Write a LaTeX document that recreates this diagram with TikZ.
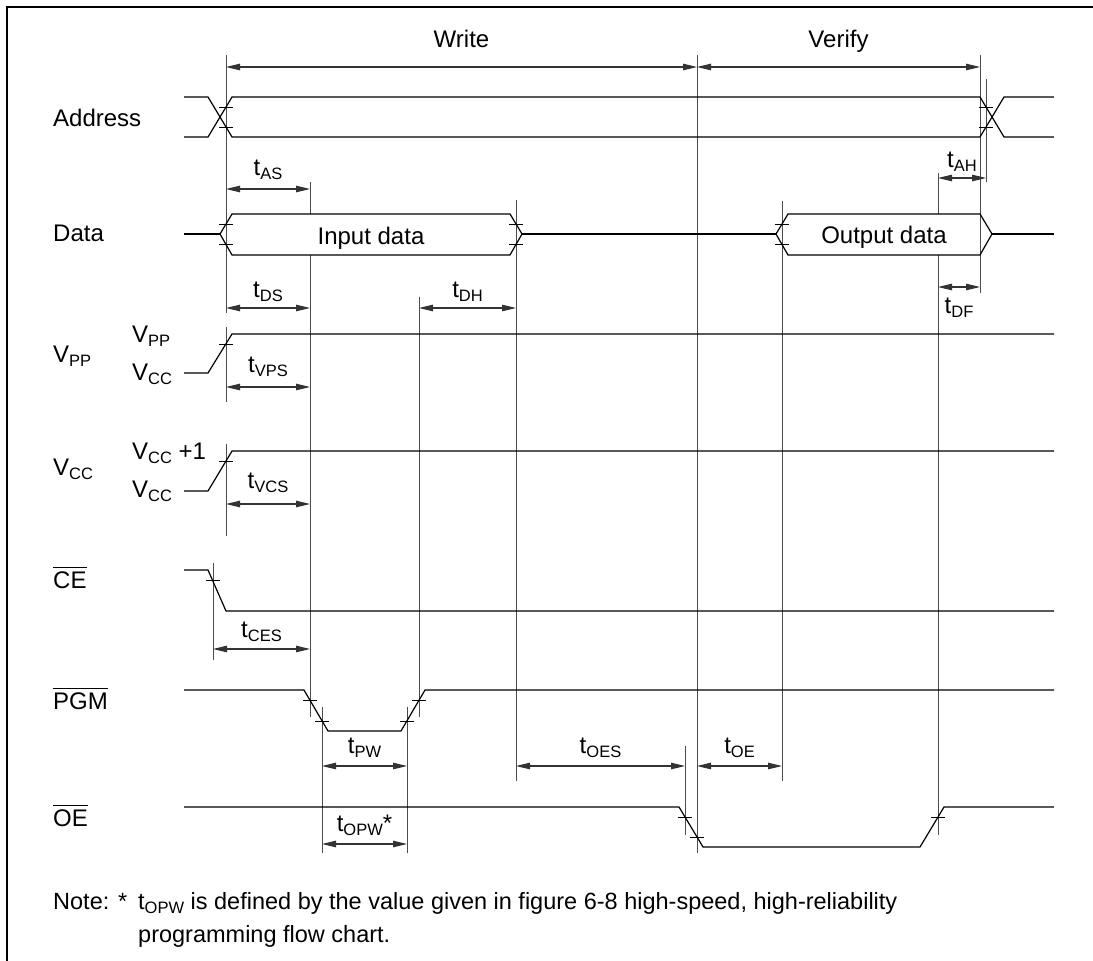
\documentclass[tikz,border=0pt]{standalone}
\usepackage{fontspec}
\setmainfont{Liberation Sans}
\usetikzlibrary{arrows.meta}
\newcommand{\tsub}[2]{#1\raisebox{-4.5pt}{\fontsize{16.5}{16.5}\selectfont #2}}
\newcommand{\negsig}[1]{\setbox0=\hbox{#1}\rlap{\rule[\dimexpr\ht0+3pt\relax]{\wd0}{1pt}}\box0}
\begin{document}
\begin{tikzpicture}
 [x=1pt, y=-1pt,
  every node/.style={inner sep=0pt, font=\fontsize{24}{28}\selectfont},
  sig/.style={line width=1.2pt},
  guide/.style={draw=black!70, line width=0.9pt},
  dim/.style={<->, draw=black!80, line width=1.1pt},
  >={Triangle[length=14pt,width=6.5pt]},
  lbl/.style={anchor=base},
  signame/.style={anchor=base west},
  tickm/.style={line width=0.9pt},
  notetext/.style={anchor=base west, font=\fontsize{23.5}{27}\selectfont}]

\useasboundingbox (0,0) rectangle (1093,961);
\draw[line width=1.2pt] (7,7) rectangle (1100,970);

\node[signame] (addr) at (53,126) {Address};
\node[signame] (data) at (53,241) {Data};
\node[signame] (vpp) at (53,362) {\tsub{V}{PP}};
\node[signame] (vcc) at (53,475) {\tsub{V}{CC}};
\node[signame] (ce) at (53,588) {\negsig{CE}};
\node[signame] (pgm) at (53,709) {\negsig{PGM}};
\node[signame] (oe) at (53,826) {\negsig{OE}};

\node[signame] (vpphi) at (132,342) {\tsub{V}{PP}};
\node[signame] (vpplo) at (132,380) {\tsub{V}{CC}};
\node[signame] (vcchi) at (132,459) {\tsub{V}{CC} +1};
\node[signame] (vcclo) at (132,497) {\tsub{V}{CC}};

\foreach \x/\a/\b in {226/55/313, 226/327/402, 226/444/536, 310/182/214, 310/255/717,
  419/297/717, 516/200/781, 697/55/853, 782/201/781, 938/173/214, 938/255/835,
  980/55/293, 986/79/182, 213/563/660, 322/707/853, 407/707/853, 685/746/835}
  \draw[guide] (\x,\a) -- (\x,\b);

\draw[sig] (184,97) -- (208,97) -- (232,137) -- (980,137) -- (1004,97) -- (1054,97);
\draw[sig] (184,137) -- (208,137) -- (232,97) -- (980,97) -- (1004,137) -- (1054,137);

\draw[sig] (184,234) -- (220,234);
\draw[sig] (220,234) -- (232,214) -- (510,214) -- (522,234) -- (510,255) -- (232,255) -- cycle;
\draw[sig] (522,234) -- (776,234);
\draw[sig] (776,234) -- (788,214) -- (980,214) -- (992,234) -- (980,255) -- (788,255) -- cycle;
\draw[sig] (992,234) -- (1054,234);
\node[lbl] (indata) at (371,244) {Input data};
\node[lbl] (outdata) at (884,243) {Output data};

\draw[sig] (184,373) -- (208,373) -- (232,334) -- (1054,334);
\draw[sig] (184,491) -- (208,491) -- (232,451) -- (1054,451);
\draw[sig] (184,570) -- (208,570) -- (226,611) -- (1054,611);
\draw[sig] (184,690) -- (304,690) -- (328,731) -- (401,731) -- (425,690) -- (1054,690);
\draw[sig] (184,807) -- (679,807) -- (703,847) -- (920,847) -- (944,807) -- (1054,807);

\foreach \x/\y in {226/107, 226/127, 986/107, 986/127, 226/224, 226/244, 516/224, 516/244,
  782/224, 782/244, 226/344, 226/461, 213/580, 310/700, 322/721, 407/721, 419/700,
  685/817, 697/837, 938/817}
  \draw[tickm] (\x-7,\y) -- (\x+7,\y);

\draw[dim] (226,67) -- node[lbl, yshift=20pt] (write) {Write} (697,67);
\draw[dim] (697,67) -- node[lbl, yshift=20pt] (verify) {Verify} (980,67);
\draw[dim] (226,189) -- node[lbl, yshift=14pt] (tas) {\tsub{t}{AS}} (310,189);
\draw[dim] (938,178) -- node[lbl, yshift=11pt] (tah) {\tsub{t}{AH}} (986,178);
\draw[dim] (226,308) -- node[lbl, yshift=11pt] (tds) {\tsub{t}{DS}} (310,308);
\draw[dim] (419,308) -- node[lbl, yshift=11pt] (tdh) {\tsub{t}{DH}} (516,308);
\draw[dim] (938,287) -- node[lbl, yshift=-26pt] (tdf) {\tsub{t}{DF}} (980,287);
\draw[dim] (226,387) -- node[lbl, yshift=15pt] (tvps) {\tsub{t}{VPS}} (310,387);
\draw[dim] (226,504) -- node[lbl, yshift=16pt] (tvcs) {\tsub{t}{VCS}} (310,504);
\draw[dim] (213,649) -- node[lbl, yshift=12pt] (tces) {\tsub{t}{CES}} (310,649);
\draw[dim] (322,766) -- node[lbl, yshift=13pt] (tpw) {\tsub{t}{PW}} (407,766);
\draw[dim] (516,766) -- node[lbl, yshift=13pt] (toes) {\tsub{t}{OES}} (685,766);
\draw[dim] (697,766) -- node[lbl, yshift=13pt] (toe) {\tsub{t}{OE}} (782,766);
\draw[dim] (322,844) -- node[lbl, yshift=13pt] (topw) {\tsub{t}{OPW}*} (407,844);

\node[notetext] (notemark) at (53,909) {Note: *};
\node[notetext] (note1) at (138,909) {\tsub{t}{OPW} is defined by the value given in figure 6-8 high-speed, high-reliability};
\node[notetext] (note2) at (138,942) {programming flow chart.};
\end{tikzpicture}
\end{document}
